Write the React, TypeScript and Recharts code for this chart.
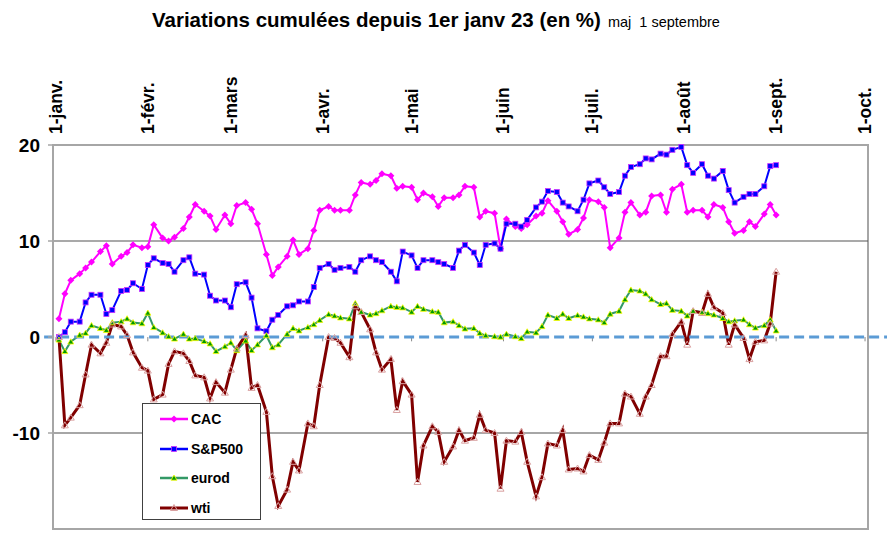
import React from "react"
import { Line, LineChart, ReferenceArea, ReferenceLine, XAxis, YAxis } from "recharts"

// day of year (0 = 1 janv.), one point every Mon / Wed / Fri
const days = [
  1, 3, 5, 8, 10, 12, 15, 17, 19, 22, 24, 26, 29, 31, 33, 36, 38, 40, 43, 45, 47,
  50, 52, 54, 57, 59, 61, 64, 66, 68, 71, 73, 75, 78, 80, 82, 85, 87, 89, 92, 94, 96,
  99, 101, 103, 106, 108, 110, 113, 115, 117, 120, 122, 124, 127, 129, 131, 134, 136, 138, 141, 143, 145,
  148, 150, 152, 155, 157, 159, 162, 164, 166, 169, 171, 173, 176, 178, 180, 183, 185, 187, 190, 192, 194,
  197, 199, 201, 204, 206, 208, 211, 213, 215, 218, 220, 222, 225, 227, 229, 232, 234, 236, 239, 241, 243,
]

const cac = [
  1.9, 4.5, 5.9, 6.6, 7.2, 7.8, 8.9, 9.5, 7.6, 8.4, 8.8, 9.6, 9.3, 9.4, 11.7, 10.3, 10.0, 10.4, 11.3, 12.5, 13.8,
  13.1, 12.6, 11.2, 12.7, 11.8, 13.7, 14.0, 13.3, 11.8, 8.6, 6.4, 7.3, 8.4, 10.1, 8.6, 9.2, 11.1, 13.2, 13.6, 13.2, 13.2,
  13.2, 14.8, 16.1, 15.9, 16.3, 17.0, 16.8, 15.5, 15.7, 15.6, 14.3, 15.0, 14.6, 13.6, 14.5, 14.5, 14.8, 15.7, 15.6, 12.5, 13.1,
  12.9, 9.2, 12.3, 11.5, 11.3, 11.7, 12.6, 12.9, 14.2, 13.1, 12.0, 10.7, 11.2, 12.4, 14.3, 14.1, 13.5, 9.3, 10.3, 13.0, 14.0,
  12.7, 13.0, 14.7, 14.8, 13.0, 15.4, 15.9, 13.0, 13.2, 13.2, 12.5, 13.8, 13.5, 12.0, 10.8, 11.1, 12.0, 11.5, 12.8, 13.8, 12.7,
]

const sp500 = [
  0.0, 0.5, 1.6, 1.6, 3.6, 4.4, 4.4, 2.4, 2.8, 4.8, 4.9, 5.6, 5.0, 7.5, 8.2, 7.7, 7.6, 6.8, 8.0, 8.3, 6.6,
  6.5, 4.3, 3.8, 3.8, 3.1, 5.5, 5.7, 4.1, 0.9, 0.6, 1.8, 2.3, 3.2, 3.3, 3.7, 3.7, 5.2, 7.2, 7.6, 7.0, 7.2,
  7.3, 6.8, 8.0, 8.4, 8.0, 7.8, 6.8, 5.8, 8.9, 8.5, 7.2, 8.0, 8.0, 7.8, 7.6, 7.2, 9.0, 9.6, 8.8, 7.5, 9.6,
  9.75, 9.2, 11.8, 11.8, 11.5, 12.2, 13.5, 14.1, 15.2, 15.1, 14.0, 13.6, 13.1, 14.3, 16.0, 16.3, 15.6, 14.9, 15.1, 16.8, 17.7,
  18.0, 18.6, 18.5, 19.1, 19.0, 19.5, 19.8, 17.9, 17.1, 18.0, 16.8, 16.5, 17.3, 15.3, 14.0, 14.6, 14.9, 14.9, 15.7, 17.8, 17.9,
]

const eurod = [
  -0.3, -1.5, -0.5, 0.2, 0.4, 1.2, 0.9, 0.7, 1.5, 1.6, 1.9, 1.5, 1.4, 2.5, 1.0, 0.45, 0.05, -0.2, 0.3, -0.2, -0.15,
  -0.45, -0.7, -1.5, -1.0, -0.6, -1.4, -0.4, -1.4, -0.8, 0.15, -1.1, -0.8, 0.3, 0.9, 0.65, 1.0, 1.3, 1.75, 2.35, 2.2, 2.0,
  1.9, 3.5, 2.6, 2.3, 2.45, 2.75, 3.2, 3.1, 3.05, 2.6, 3.2, 2.9, 2.65, 2.6, 1.5, 1.6, 1.2, 0.85, 0.9, 0.4, 0.15,
  0.05, 0.0, 0.3, 0.05, -0.15, 0.55, 0.45, 1.1, 2.3, 1.95, 2.4, 1.95, 2.25, 2.1, 1.9, 1.8, 1.5, 2.4, 2.7, 3.9, 4.9,
  4.8, 4.5, 3.9, 3.4, 3.5, 2.8, 2.7, 2.2, 2.7, 2.6, 2.45, 2.3, 1.95, 1.6, 1.7, 1.8, 1.3, 0.95, 1.2, 1.8, 0.65,
]

const wti = [
  0.0, -9.2, -8.4, -7.1, -3.9, -0.8, -1.7, -0.6, 1.3, 1.1, 0.2, -1.6, -3.2, -3.5, -6.5, -6.0, -2.8, -1.5, -1.7, -2.5, -4.0,
  -4.2, -6.4, -4.7, -5.8, -3.4, -1.2, 0.2, -5.3, -5.0, -7.8, -14.5, -17.6, -15.9, -13.0, -13.9, -9.0, -9.3, -5.0, 0.0, -0.1, -0.6,
  -2.1, 3.2, 2.6, 0.8, -1.6, -3.4, -2.3, -7.6, -4.6, -6.0, -15.1, -11.3, -9.3, -9.9, -13.0, -11.4, -9.7, -10.8, -10.5, -8.1, -9.7,
  -10.0, -15.8, -10.8, -10.9, -9.9, -13.0, -16.6, -14.6, -11.1, -11.3, -9.7, -13.8, -13.7, -14.0, -12.3, -12.8, -11.0, -9.0, -9.0, -5.9, -6.2,
  -8.0, -6.2, -5.0, -2.0, -2.0, 0.3, 1.6, -0.8, 2.7, 2.5, 4.5, 3.1, 2.5, -0.8, 1.3, -0.1, -2.3, -0.5, -0.35, 1.4, 6.8,
]

const monthTicks = [0, 31, 59, 90, 120, 151, 181, 212, 243, 273]
const monthLabels = ["1-janv.", "1-févr.", "1-mars", "1-avr.", "1-mai", "1-juin", "1-juil.", "1-août", "1-sept.", "1-oct."]
const yTicks = [-20, -10, 0, 10, 20]

const data = days.map((day, i) => ({
  day,
  CAC: cac[i],
  "S&P500": sp500[i],
  eurod: eurod[i],
  wti: wti[i],
}))

const FONT = "'Liberation Sans', Arial, sans-serif"

// markers, roughly like the Excel ones
function cacDot(p: any) {
  const { cx, cy, index } = p
  return <path key={`c${index}`} d={`M${cx},${cy - 3.5}L${cx + 3.5},${cy}L${cx},${cy + 3.5}L${cx - 3.5},${cy}Z`} fill="#FF00FF" />
}
function spDot(p: any) {
  const { cx, cy, index } = p
  return <rect key={`s${index}`} x={cx - 2.5} y={cy - 2.5} width={5} height={5} fill="#0000FF" stroke="#CC33FF" strokeWidth={0.8} />
}
function eurDot(p: any) {
  const { cx, cy, index } = p
  return <path key={`e${index}`} d={`M${cx},${cy - 3}L${cx + 3},${cy + 2.2}L${cx - 3},${cy + 2.2}Z`} fill="#009900" stroke="#FFFF00" strokeWidth={0.8} />
}
function wtiDot(p: any) {
  const { cx, cy, index } = p
  return <path key={`w${index}`} d={`M${cx},${cy - 3.5}L${cx + 3.5},${cy + 2.5}L${cx - 3.5},${cy + 2.5}Z`} fill="none" stroke="#D9A0A0" strokeWidth={1} />
}

function MonthTick(props: any) {
  const { x, index } = props
  return (
    <text
      x={x}
      y={134}
      transform={`rotate(-90 ${x} 134)`}
      textAnchor="start"
      dominantBaseline="central"
      fontFamily={FONT}
      fontWeight="bold"
      fontSize={17.5}
      fill="#000"
    >
      {monthLabels[index]}
    </text>
  )
}

const legendItems = [
  { name: "CAC", color: "#FF00FF", dot: "diamond" },
  { name: "S&P500", color: "#0000FF", dot: "square" },
  { name: "eurod", color: "#339966", dot: "tri" },
  { name: "wti", color: "#800000", dot: "hollow" },
]

function LegendBox() {
  return (
    <div
      style={{
        position: "absolute",
        left: 142,
        top: 403,
        width: 117,
        height: 115,
        border: "1px solid #404040",
        background: "#fff",
        fontFamily: FONT,
        fontWeight: "bold",
        fontSize: 14,
      }}
    >
      {legendItems.map((it, i) => (
        <div key={it.name} style={{ position: "absolute", left: 17, top: 5 + i * 29.5, height: 20, display: "flex", alignItems: "center" }}>
          <svg width={30} height={12}>
            <line x1={0} y1={6} x2={28} y2={6} stroke={it.color} strokeWidth={it.name === "wti" ? 3 : 2.5} />
            {it.dot === "diamond" && <path d="M14,2.5L17.5,6L14,9.5L10.5,6Z" fill="#FF00FF" />}
            {it.dot === "square" && <rect x={11.5} y={3.5} width={5} height={5} fill="#0000FF" stroke="#CC33FF" strokeWidth={0.8} />}
            {it.dot === "tri" && <path d="M14,3L17,8.2L11,8.2Z" fill="#009900" stroke="#FFFF00" strokeWidth={0.8} />}
            {it.dot === "hollow" && <path d="M14,2.5L17.5,8.5L10.5,8.5Z" fill="none" stroke="#D9A0A0" strokeWidth={1} />}
          </svg>
          <span style={{ marginLeft: 1 }}>{it.name}</span>
        </div>
      ))}
    </div>
  )
}

export default function App() {
  return (
    <div style={{ position: "absolute", left: 0, top: 0, width: 887, height: 536, background: "#fff" }}>
      <div style={{ position: "absolute", left: 152, top: 8, whiteSpace: "nowrap", fontFamily: FONT }}>
        <span style={{ fontWeight: "bold", fontSize: 20.5 }}>Variations cumulées depuis 1er janv 23 (en %)</span>
        <span style={{ fontSize: 14.5, marginLeft: 7 }}>maj&nbsp; 1 septembre</span>
      </div>
      <LineChart width={887} height={536} data={data} margin={{ top: 0, right: 19, bottom: 7, left: 8 }}>
        <ReferenceArea x1={-1} x2={274} y1={-20} y2={20} fill="none" stroke="#A6A6A6" strokeWidth={2} ifOverflow="visible" />
        <ReferenceLine y={10} stroke="#555" strokeWidth={1.2} />
        <ReferenceLine y={-10} stroke="#888" strokeWidth={1.5} />
        <XAxis
          dataKey="day"
          type="number"
          domain={[-1, 274]}
          ticks={monthTicks}
          orientation="top"
          height={145}
          axisLine={false}
          tickLine={false}
          interval={0}
          tick={<MonthTick />}
        />
        <YAxis
          type="number"
          domain={[-20, 20]}
          ticks={yTicks}
          width={45}
          axisLine={{ stroke: "#A6A6A6", strokeWidth: 2 }}
          tickLine={{ stroke: "#A6A6A6", strokeWidth: 1.5 }}
          tickSize={5}
          tickMargin={8}
          tick={{ fontFamily: FONT, fontWeight: "bold", fontSize: 19, fill: "#000" }}
        />
        <Line dataKey="CAC" type="linear" stroke="#FF00FF" strokeWidth={2} dot={cacDot} isAnimationActive={false} />
        <Line dataKey="S&P500" type="linear" stroke="#0000FF" strokeWidth={2} dot={spDot} isAnimationActive={false} />
        <Line dataKey="eurod" type="linear" stroke="#339966" strokeWidth={2} dot={eurDot} isAnimationActive={false} />
        <Line dataKey="wti" type="linear" stroke="#800000" strokeWidth={3} dot={wtiDot} isAnimationActive={false} />
        {monthTicks.map((m) => (
          <ReferenceLine key={m} segment={[{ x: m, y: 0 }, { x: m, y: -0.45 }]} stroke="#888" strokeWidth={1} ifOverflow="visible" />
        ))}
        <ReferenceLine
          segment={[{ x: -4, y: 0 }, { x: 281, y: 0 }]}
          stroke="#5B9BD5"
          strokeWidth={3}
          strokeDasharray="10 5"
          ifOverflow="visible"
        />
      </LineChart>
      <LegendBox />
    </div>
  )
}
